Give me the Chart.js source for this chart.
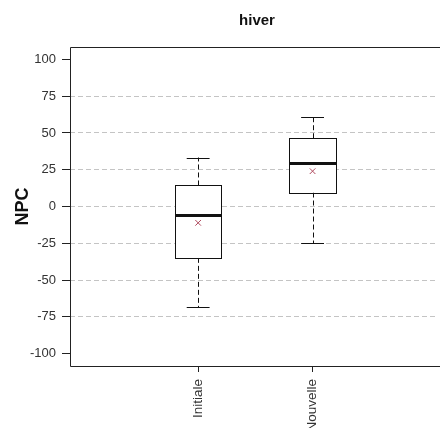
<!DOCTYPE html>
<html>
<head>
<meta charset="utf-8">
<script src="https://cdn.jsdelivr.net/npm/chart.js@4/dist/chart.umd.min.js"></script>
<style>
  html, body { margin: 0; padding: 0; background: #fff; overflow: hidden; }
  #wrap { width: 440px; height: 428px; }
</style>
</head>
<body>
<div id="wrap"><canvas id="c" width="440" height="428"></canvas></div>
<script>
// data
var titre = 'hiver';
var categories = ['Initiale', 'Nouvelle'];
var whiskerLow = [-68.4, -25.1];
var q1 = [-34.9, 9.5];
var medians = [-6.1, 29.2];
var q3 = [14.3, 46.4];
var whiskerHigh = [33.3, 60.7];
var means = [-11.1, 24.0];
var yTicks = [-100, -75, -50, -25, 0, 25, 50, 75, 100];

var boxHalf = 0.203;   // half box width in x units
var capHalf = 0.1;

// boxes, whiskers, frame and title drawn through the scales
var boxPlugin = {
  id: 'boxes',
  beforeDatasetsDraw: function(chart) {
    var ctx = chart.ctx, x = chart.scales.x, y = chart.scales.y;
    ctx.save();
    for (var i = 0; i < categories.length; i++) {
      var cx = Math.round(x.getPixelForValue(i + 1)) + 0.5;
      var xl = Math.round(x.getPixelForValue(i + 1 - boxHalf)) + 0.5;
      var xr = Math.round(x.getPixelForValue(i + 1 + boxHalf)) + 0.5;
      var cl = x.getPixelForValue(i + 1 - capHalf);
      var cr = x.getPixelForValue(i + 1 + capHalf);
      var yq1 = y.getPixelForValue(q1[i]), yq3 = y.getPixelForValue(q3[i]);
      var ylo = y.getPixelForValue(whiskerLow[i]), yhi = y.getPixelForValue(whiskerHigh[i]);
      var ym = y.getPixelForValue(medians[i]);
      ctx.strokeStyle = '#111';
      ctx.lineWidth = 1;
      // whiskers
      ctx.setLineDash([5, 3]);
      ctx.beginPath();
      ctx.moveTo(cx, yq3); ctx.lineTo(cx, yhi);
      ctx.moveTo(cx, yq1); ctx.lineTo(cx, ylo);
      ctx.stroke();
      ctx.setLineDash([]);
      ctx.beginPath();
      ctx.moveTo(cl, Math.round(yhi) + 0.5); ctx.lineTo(cr, Math.round(yhi) + 0.5);
      ctx.moveTo(cl, Math.round(ylo) + 0.5); ctx.lineTo(cr, Math.round(ylo) + 0.5);
      ctx.stroke();
      // box
      ctx.fillStyle = '#fff';
      ctx.fillRect(xl, yq3, xr - xl, yq1 - yq3);
      ctx.strokeRect(xl, Math.round(yq3) + 0.5, xr - xl, Math.round(yq1) - Math.round(yq3));
      // median
      ctx.lineWidth = 3;
      ctx.beginPath();
      ctx.moveTo(xl, ym); ctx.lineTo(xr, ym);
      ctx.stroke();
    }
    ctx.restore();
  },
  afterDraw: function(chart) {
    var ctx = chart.ctx, a = chart.chartArea;
    ctx.save();
    ctx.strokeStyle = '#222';
    ctx.lineWidth = 1;
    ctx.beginPath();
    ctx.moveTo(a.right + 10, a.top + 0.5);
    ctx.lineTo(a.left + 0.5, a.top + 0.5);
    ctx.lineTo(a.left + 0.5, a.bottom + 0.5);
    ctx.lineTo(a.right + 10, a.bottom + 0.5);
    ctx.stroke();
    ctx.fillStyle = '#111';
    ctx.font = 'bold 15px "Liberation Sans", Arial, sans-serif';
    ctx.textAlign = 'center';
    ctx.textBaseline = 'middle';
    ctx.fillText(titre, 257, 21);
    ctx.restore();
  }
};

new Chart(document.getElementById('c'), {
  type: 'scatter',
  data: {
    datasets: [{
      label: 'moyenne',
      data: means.map(function(m, i) { return {x: i + 1, y: m}; }),
      pointStyle: 'crossRot',
      pointRadius: 4,
      pointHoverRadius: 4,
      borderColor: '#b04a5e',
      borderWidth: 1
    }]
  },
  plugins: [boxPlugin],
  options: {
    responsive: false,
    animation: false,
    events: [],
    layout: { padding: { top: 47, left: 0, right: 0, bottom: 0 } },
    plugins: { legend: { display: false }, tooltip: { enabled: false }, title: { display: false } },
    scales: {
      x: {
        type: 'linear',
        min: -0.12,
        max: 3.07,
        afterBuildTicks: function(s) { s.ticks = categories.map(function(c, i) { return {value: i + 1}; }); },
        afterFit: function(s) { s.height = 62; },
        grid: { drawOnChartArea: false, tickLength: 6, tickColor: '#222', tickWidth: 1 },
        border: { display: false },
        ticks: {
          autoSkip: false,
          minRotation: 90,
          maxRotation: 90,
          padding: 7,
          color: '#333',
          font: { family: '"Liberation Sans", Arial, sans-serif', size: 13.5 },
          callback: function(v) { return categories[v - 1]; }
        }
      },
      y: {
        min: -108.4,
        max: 108.4,
        afterBuildTicks: function(s) { s.ticks = yTicks.map(function(v) { return {value: v}; }); },
        afterFit: function(s) { s.width = 70; },
        grid: {
          color: function(c) { return (c.tick && Math.abs(c.tick.value) === 100) ? 'rgba(0,0,0,0)' : '#c4c4c4'; },
          lineWidth: 1,
          tickLength: 8,
          tickColor: '#222',
          tickWidth: 1
        },
        border: { display: false, dash: [5, 3] },
        ticks: {
          padding: 6,
          color: '#333',
          font: { family: '"Liberation Sans", Arial, sans-serif', size: 13 }
        },
        title: {
          display: true,
          text: 'NPC',
          color: '#111',
          padding: { top: 12, bottom: 0 },
          font: { family: '"Liberation Sans", Arial, sans-serif', size: 18, weight: 'bold' }
        }
      }
    }
  }
});
</script>
</body>
</html>
